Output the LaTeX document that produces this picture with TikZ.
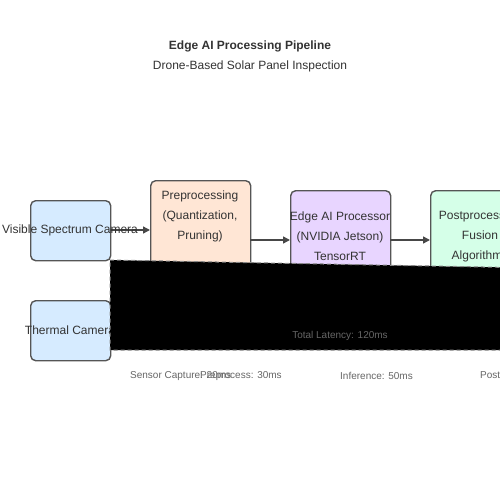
\documentclass[tikz,border=0pt]{standalone}
\usepackage{fontspec}
\setmainfont{Liberation Sans}
\usetikzlibrary{arrows.meta}
\definecolor{txt}{HTML}{333333}
\definecolor{edge}{HTML}{555555}
\definecolor{camfill}{HTML}{D6EBFF}
\definecolor{prefill}{HTML}{FFE6D5}
\definecolor{aifill}{HTML}{E8D5FF}
\definecolor{postfill}{HTML}{D5FFE8}
\definecolor{lat}{HTML}{666666}
\definecolor{dashgray}{HTML}{888888}
\tikzset{
  box/.style={draw=edge, line width=1.4pt, rounded corners=5pt, minimum width=80pt, minimum height=60pt, inner sep=0pt, anchor=north west},
  btext/.style={text=txt, font=\fontsize{12}{20}\selectfont, align=center, inner sep=0pt},
  flow/.style={draw=txt!90, line width=1.4pt, -{Triangle[length=7pt,width=7pt]}},
  small/.style={text=lat, font=\fontsize{10}{12}\selectfont, inner sep=0pt}
}
\begin{document}
\begin{tikzpicture}[x=1pt,y=-1pt]
\useasboundingbox (0,0) rectangle (500,500);
\clip (0,0) rectangle (500,500);
\fill[white] (0,0) rectangle (500,500);
% titles
\node[text=txt, font=\fontsize{12}{14}\selectfont\bfseries] (title) at (250,46) {Edge AI Processing Pipeline};
\node[text=txt, font=\fontsize{12}{14}\selectfont] (subtitle) at (250,66) {Drone-Based Solar Panel Inspection};
% boxes
\node[box, fill=camfill] (cam) at (30,200) {};
\node[box, fill=camfill] (therm) at (30,300) {};
\node[box, fill=prefill, minimum width=100pt, minimum height=110pt] (pre) at (150,180) {};
\node[box, fill=aifill, minimum width=100pt, minimum height=110pt] (ai) at (290,190) {};
\node[box, fill=postfill, minimum width=100pt, minimum height=110pt] (post) at (430,190) {};
% arrows
\coordinate (a1s) at (110,230);
\coordinate (a1e) at (150,230);
\draw[flow] (a1s) -- (a1e);
\coordinate (a2s) at (250,240);
\coordinate (a2e) at (290,240);
\draw[flow] (a2s) -- (a2e);
\coordinate (a3s) at (390,240);
\coordinate (a3e) at (430,240);
\draw[flow] (a3s) -- (a3e);
% texts
\node[btext] (camt) at (70,230) {Visible Spectrum Camera};
\node[btext] (thermt) at (70,330) {Thermal Camera};
\node[btext] (pret) at (200,216) {Preprocessing\\(Quantization,\\Pruning)};
\node[btext] (ait) at (340,236) {Edge AI Processor\\(NVIDIA Jetson)\\TensorRT};
\node[btext] (postt) at (480,236) {Postprocessing\\Fusion\\Algorithms};
% black timeline shape
\draw[draw=dashgray, line width=1pt, dash pattern=on 4pt off 3pt, fill=black] (110,260) -- (510,267.5) -- (510,350) -- (110,350) -- cycle;
\node[small] (total) at (340,336) {Total Latency: 120ms};
% stage labels
\node[small, anchor=west] (l1) at (130,376) {Sensor Capture: 20ms};
\node[small, anchor=west] (l2) at (200,376) {Preprocess: 30ms};
\node[small, anchor=west] (l3) at (340,376) {Inference: 50ms};
\node[small, anchor=west] (l4) at (480,376) {Postprocess: 20ms};
\end{tikzpicture}
\end{document}
